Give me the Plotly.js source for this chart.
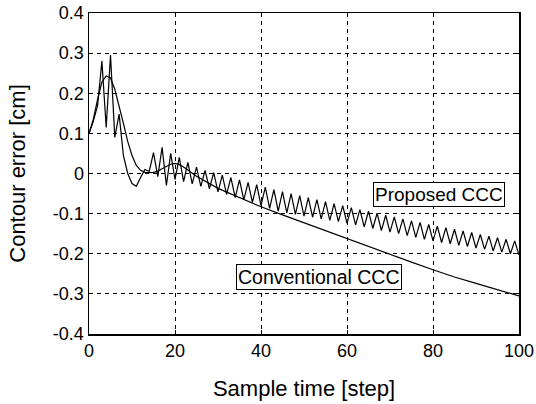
<!DOCTYPE html>
<html>
<head>
<meta charset="utf-8">
<script src="https://cdn.plot.ly/plotly-3.0.1.min.js"></script>
<style>html,body{margin:0;padding:0;background:#fff;}#chart{width:536px;height:404px;}</style>
</head>
<body>
<div id="chart"></div>
<script>
// Proposed CCC (oscillating), one value per sample 0..100
var stepsProposed = [];
for (var i = 0; i <= 100; i++) stepsProposed.push(i);
var proposedCCC = [
  0.100, 0.130, 0.170, 0.280, 0.115, 0.295, 0.090, 0.148, 0.045, 0.000,
  -0.025, -0.032, -0.010, 0.010, 0.005, 0.052, -0.008, 0.065, -0.030, 0.050,
  -0.015, 0.040, -0.020, 0.028, -0.026, 0.016, -0.032, 0.008, -0.038, 0.002,
  -0.046, -0.004, -0.052, -0.010, -0.060, -0.016, -0.066, -0.022, -0.072, -0.028,
  -0.080, -0.034, -0.087, -0.040, -0.094, -0.045, -0.098, -0.050, -0.102, -0.055,
  -0.106, -0.060, -0.109, -0.065, -0.113, -0.070, -0.117, -0.075, -0.120, -0.080,
  -0.124, -0.085, -0.128, -0.090, -0.133, -0.094, -0.137, -0.099, -0.142, -0.104,
  -0.146, -0.108, -0.150, -0.113, -0.155, -0.118, -0.159, -0.122, -0.164, -0.127,
  -0.168, -0.131, -0.172, -0.135, -0.175, -0.139, -0.179, -0.143, -0.182, -0.147,
  -0.186, -0.152, -0.189, -0.156, -0.193, -0.160, -0.196, -0.164, -0.200, -0.168,
  -0.203
];
// Conventional CCC (smooth)
var stepsConventional = [0,1,2,3,4,5,6,7,8,9,10,11,12,13,14,15,16,17,18,19,20,21,22,23,24,25,
  30,35,40,45,50,55,60,65,70,75,80,85,90,95,100];
var conventionalCCC = [0.100,0.135,0.185,0.228,0.243,0.238,0.210,0.170,0.125,0.080,0.045,0.020,0.008,0.003,0.002,0.003,0.006,0.012,0.018,0.023,0.025,0.022,0.016,0.008,0.000,-0.007,
  -0.037,-0.060,-0.083,-0.103,-0.123,-0.143,-0.163,-0.182,-0.202,-0.221,-0.240,-0.258,-0.274,-0.290,-0.305];

var xTickVals = [0,20,40,60,80,100];
var xTickText = ['0','20','40','60','80','100'];
var yTickVals = [-0.4,-0.3,-0.2,-0.1,0,0.1,0.2,0.3,0.4];
var yTickText = ['-0.4','-0.3','-0.2','-0.1','0','0.1','0.2','0.3','0.4'];

var lineStyle = {color:'#000', width:1.2};
var traces = [
  {x: stepsConventional, y: conventionalCCC, mode:'lines', line: lineStyle, name:'Conventional CCC', hoverinfo:'skip'},
  {x: stepsProposed, y: proposedCCC, mode:'lines', line: lineStyle, name:'Proposed CCC', hoverinfo:'skip'}
];
var font = {family:'Liberation Sans, Arial, sans-serif', color:'#000'};
var axisCommon = {
  showgrid:true, gridcolor:'#000', gridwidth:1, griddash:'4px,4px',
  showline:true, linecolor:'#000', linewidth:1.5, mirror:'ticks',
  ticks:'inside', ticklen:4, tickcolor:'#000', zeroline:false,
  tickfont:{family:font.family, size:18, color:'#000'}
};
var layout = {
  width:536, height:404,
  margin:{l:89, r:17, t:13, b:70},
  paper_bgcolor:'#fff', plot_bgcolor:'#fff',
  showlegend:false,
  font: font,
  xaxis: Object.assign({}, axisCommon, {
    range:[0,100], tickvals:xTickVals, ticktext:xTickText,
    title:{text:'Sample time [step]', font:{family:font.family, size:22, color:'#000'}, standoff:20}
  }),
  yaxis: Object.assign({}, axisCommon, {
    range:[-0.4,0.4], tickvals:yTickVals, ticktext:yTickText,
    title:{text:'Contour error [cm]', font:{family:font.family, size:22, color:'#000'}, standoff:21}
  }),
  annotations:[
    {x:81.5, y:-0.0525, xref:'x', yref:'y', text:'Proposed CCC', showarrow:false,
     font:{family:font.family, size:19, color:'#000'}, bgcolor:'#fff', bordercolor:'#000', borderwidth:1, borderpad:1},
    {x:53.6, y:-0.2575, xref:'x', yref:'y', text:'Conventional CCC', showarrow:false,
     font:{family:font.family, size:19.5, color:'#000'}, bgcolor:'#fff', bordercolor:'#000', borderwidth:1, borderpad:1}
  ]
};
Plotly.newPlot('chart', traces, layout, {staticPlot:true, displayModeBar:false});
</script>
</body>
</html>
